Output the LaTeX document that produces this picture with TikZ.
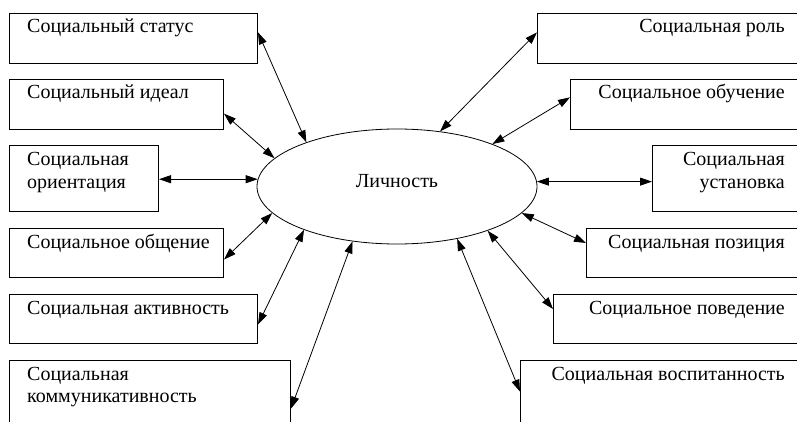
\documentclass[tikz,border=0pt]{standalone}
\usepackage{fontspec}
\setmainfont{Liberation Serif}
\usetikzlibrary{arrows.meta,shapes.geometric,calc}
\newcommand{\twoleft}[2]{\vtop{\baselineskip=22.5pt\halign{##\hfil\cr#1\cr#2\cr}}}
\newcommand{\tworight}[2]{\vtop{\baselineskip=22.5pt\halign{\hfil##\cr#1\cr#2\cr}}}
\begin{document}
\begin{tikzpicture}[x=1pt,y=-1pt,
  box/.style={draw, line width=1pt, anchor=north west, inner sep=0pt},
  lbl/.style={inner sep=0pt, font=\fontsize{20}{22.5}\selectfont},
  link/.style={line width=0.8pt, {Triangle[length=12pt,width=8pt]}-{Triangle[length=12pt,width=8pt]}}]
\clip (0,0) rectangle (797,422);
% left boxes
\node[box, minimum width=248pt, minimum height=50pt] (s1) at (9,13) {};
\node[box, minimum width=214pt, minimum height=50pt] (s2) at (9,79) {};
\node[box, minimum width=149pt, minimum height=66pt] (s3) at (9,145) {};
\node[box, minimum width=214pt, minimum height=49pt] (s4) at (9,228) {};
\node[box, minimum width=248pt, minimum height=49pt] (s5) at (9,294) {};
\node[box, minimum width=281pt, minimum height=80pt] (s6) at (9,360) {};
% right boxes
\node[box, minimum width=273pt, minimum height=50pt] (r1) at (537,13) {};
\node[box, minimum width=240pt, minimum height=50pt] (r2) at (570,79) {};
\node[box, minimum width=158pt, minimum height=66pt] (r3) at (652,145) {};
\node[box, minimum width=224pt, minimum height=49pt] (r4) at (586,228) {};
\node[box, minimum width=257pt, minimum height=49pt] (r5) at (553,294) {};
\node[box, minimum width=290pt, minimum height=80pt] (r6) at (520,360) {};
% labels
\node[lbl, anchor=base west] (t1) at (27,33) {Социальный статус};
\node[lbl, anchor=base west] (t2) at (27,99) {Социальный идеал};
\node[lbl, anchor=base west] (t3) at (27,166) {\twoleft{Социальная}{ориентация}};
\node[lbl, anchor=base west] (t4) at (27,248) {Социальное общение};
\node[lbl, anchor=base west] (t5) at (27,314) {Социальная активность};
\node[lbl, anchor=base west] (t6) at (27,380) {\twoleft{Социальная}{коммуникативность}};
\node[lbl, anchor=base east] (u1) at (785,33) {Социальная роль};
\node[lbl, anchor=base east] (u2) at (785,99) {Социальное обучение};
\node[lbl, anchor=base east] (u3) at (785,166) {\tworight{Социальная}{установка}};
\node[lbl, anchor=base east] (u4) at (785,248) {Социальная позиция};
\node[lbl, anchor=base east] (u5) at (785,314) {Социальное поведение};
\node[lbl, anchor=base east] (u6) at (785,380) {Социальная воспитанность};
% centre
\node[draw, ellipse, line width=0.8pt, minimum width=280pt, minimum height=115pt, inner sep=0pt] (L) at (397,186.5) {};
\node[lbl, anchor=base] (Lt) at (397,187) {Личность};
% connectors
\draw[link] ($(s1.north east)!0.38!(s1.south east)$) -- (L.154.9);
\draw[link] ($(s2.north east)!0.68!(s2.south east)$) -- (L.167.6);
\draw[link] (L.177.3 -| s3.east) -- (L.177.3);
\draw[link] ($(s4.north east)!0.63!(s4.south east)$) -- (L.192);
\draw[link] ($(s5.north east)!0.61!(s5.south east)$) -- (L.205.8);
\draw[link] ($(s6.north east)!0.6!(s6.south east)$) -- (L.231.1);
\draw[link] ($(r1.north west)!0.38!(r1.south west)$) -- (L.52.6);
\draw[link] ($(r2.north west)!0.36!(r2.south west)$) -- (L.24.6);
\draw[link] (L.2.7 -| r3.west) -- (L.2.7);
\draw[link] ($(r4.north west)!0.3!(r4.south west)$) -- (L.348.3);
\draw[link] ($(r5.north west)!0.3!(r5.south west)$) -- (L.334.4);
\draw[link] ($(r6.north west)!0.39!(r6.south west)$) -- (L.319.1);
\end{tikzpicture}
\end{document}
